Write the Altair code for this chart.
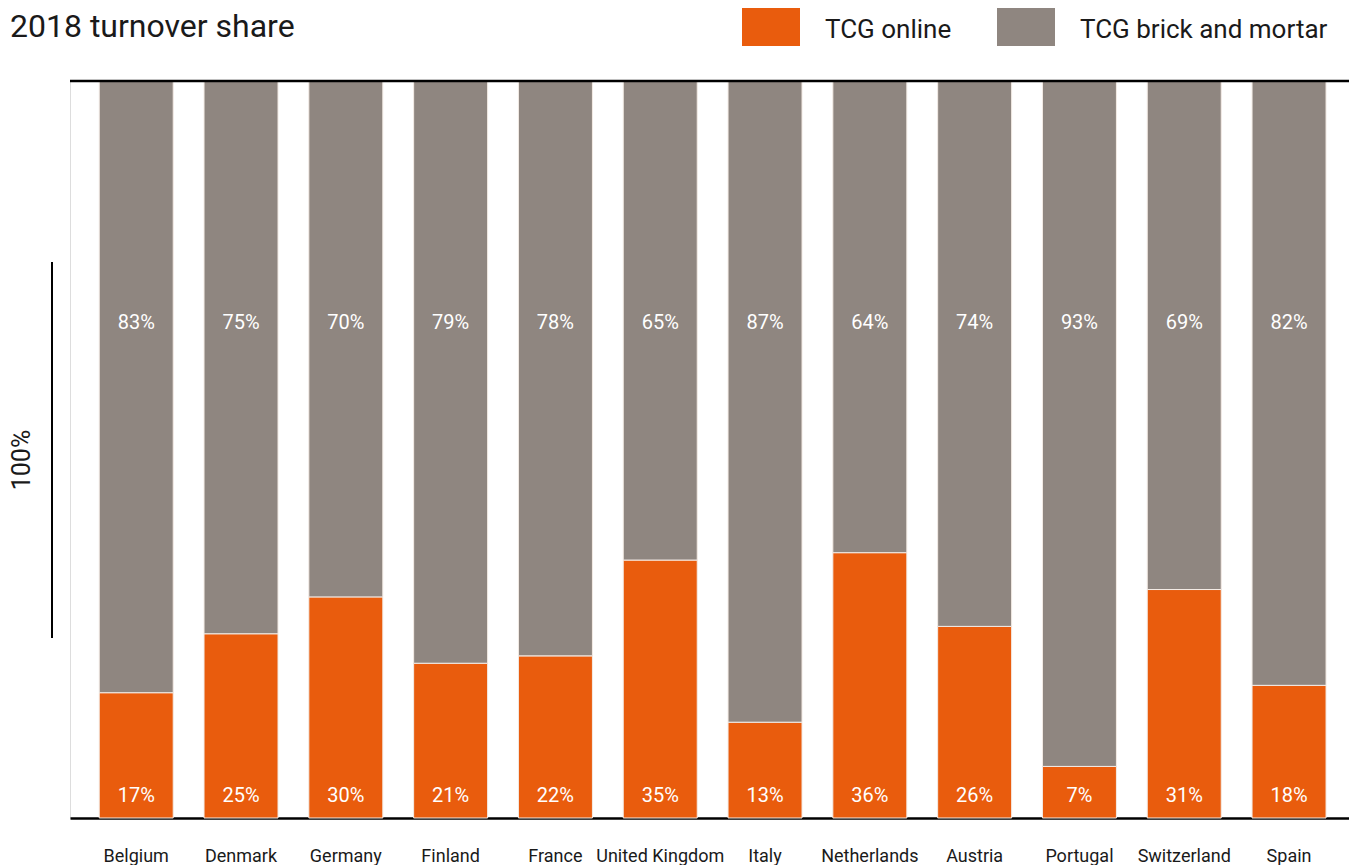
import altair as alt
import pandas as pd

countries = ["Belgium", "Denmark", "Germany", "Finland", "France", "United Kingdom",
             "Italy", "Netherlands", "Austria", "Portugal", "Switzerland", "Spain"]
online = [17, 25, 30, 21, 22, 35, 13, 36, 26, 7, 31, 18]
brick = [83, 75, 70, 79, 78, 65, 87, 64, 74, 93, 69, 82]
series = ["TCG online", "TCG brick and mortar"]
colors = ["#E95C0D", "#8F8680"]

rows = []
for c, o, b in zip(countries, online, brick):
    rows.append({"country": c, "series": series[0], "value": o, "order": 0, "label": f"{o}%"})
    rows.append({"country": c, "series": series[1], "value": b, "order": 1, "label": f"{b}%"})
df = pd.DataFrame(rows)

W, H = 1279, 737
FONT = "Roboto"

xenc = alt.X("country:N", sort=countries, title=None,
             scale=alt.Scale(paddingInner=0.294, paddingOuter=0.249, align=0.56),
             axis=alt.Axis(domainColor="black", domainWidth=2.5, ticks=False,
                           labelFontSize=18, labelColor="#1a1a1a", labelPadding=29,
                           labelFont=FONT, labelAngle=0, grid=False))

base = alt.Chart(df)

bars = base.mark_bar(stroke="#f4ece6", strokeWidth=1).encode(
    x=xenc,
    y=alt.Y("value:Q", stack="zero", axis=None,
            scale=alt.Scale(domain=[0, 100], nice=False)),
    color=alt.Color("series:N", sort=series,
                    scale=alt.Scale(domain=series, range=colors),
                    legend=alt.Legend(title=None, orient="none", legendX=672, legendY=-80,
                                      direction="horizontal", padding=0,
                                      symbolType="M-1,-0.83H1V0.55H-1Z", symbolSize=3364,
                                      symbolStrokeWidth=0, labelFontSize=26, labelFont=FONT,
                                      labelColor="#1a1a1a", labelOffset=25, columnPadding=45,
                                      labelLimit=400)),
    order=alt.Order("order:Q"),
)

txt_online = base.transform_filter(alt.datum.series == series[0]).mark_text(
    color="white", fontSize=20, font=FONT, baseline="middle").encode(
    x=alt.X("country:N", sort=countries), y=alt.value(715), text="label:N")

txt_brick = base.transform_filter(alt.datum.series == series[1]).mark_text(
    color="white", fontSize=20, font=FONT, baseline="middle").encode(
    x=alt.X("country:N", sort=countries), y=alt.value(242), text="label:N")

top_line = alt.Chart(pd.DataFrame({"a": [0]})).mark_rule(color="black", strokeWidth=2.5).encode(
    x=alt.value(0), x2=alt.value(W), y=alt.value(0))

bracket = alt.Chart(pd.DataFrame({"a": [0]})).mark_rule(color="black", strokeWidth=2).encode(
    x=alt.value(-18), y=alt.value(181), y2=alt.value(557))

hundred = alt.Chart(pd.DataFrame({"t": ["100%"]})).mark_text(
    angle=270, fontSize=25, font=FONT, color="#1a1a1a", align="center", baseline="middle").encode(
    x=alt.value(-48), y=alt.value(379), text="t:N")

title = alt.Chart(pd.DataFrame({"t": ["2018 turnover share"]})).mark_text(
    fontSize=32, font=FONT, color="#1a1a1a", align="left", baseline="middle").encode(
    x=alt.value(-60), y=alt.value(-54), text="t:N")

chart = alt.layer(bars, txt_online, txt_brick, top_line, bracket, hundred, title).properties(
    width=W, height=H,
    autosize=alt.AutoSizeParams(type="none"),
    padding={"left": 62, "top": 73, "right": 0, "bottom": 49},
).configure_view(stroke=None).configure(font=FONT)

chart.save("out.html", embed_options={"renderer": "svg", "actions": False})
